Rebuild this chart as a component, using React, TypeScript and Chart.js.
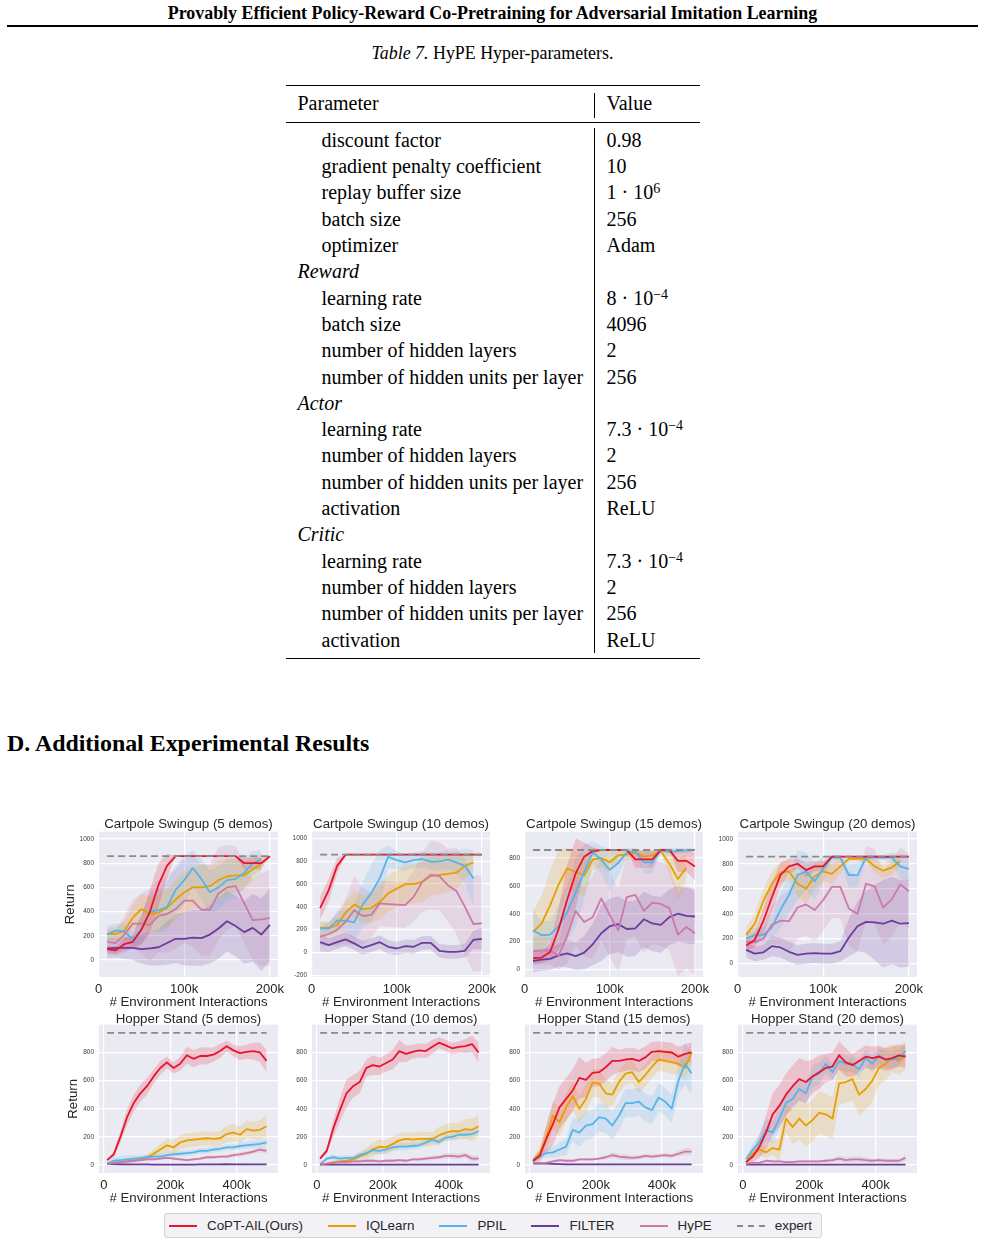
import React, { useEffect, useRef } from "react";
import { Chart, registerables } from "chart.js";
Chart.register(...registerables);

const SANS = "'Liberation Sans', Arial, Helvetica, sans-serif";
const SERIF = "'Liberation Serif', 'Times New Roman', Times, serif";

// ---------- chart data ----------
const METHODS = ["CoPT-AIL(Ours)", "IQLearn", "PPIL", "FILTER", "HyPE"];
const METHOD_COLORS = ["#e8132f", "#e69f00", "#56b4e9", "#6a3d9a", "#cc79a7"];
const EXPERT_COLOR = "#8a8a8a";

const CP_X = [10000, 20000, 30000, 40000, 50000, 60000, 70000, 80000, 90000, 100000, 110000, 120000, 130000, 140000, 150000, 160000, 170000, 180000, 190000, 200000];
const CP_X_TICKS = [0, 100000, 200000];
const CP_X_LABELS = ["0", "100k", "200k"];
const CP_Y_TICKS = [0, 200, 400, 600, 800, 1000];
const C10_Y_TICKS = [-200, 0, 200, 400, 600, 800, 1000];
const C15_Y_TICKS = [0, 200, 400, 600, 800];
const CP_EXPERT = 858;

const HOP_X = [10000, 30000, 50000, 70000, 90000, 110000, 130000, 150000, 170000, 190000, 210000, 230000, 250000, 270000, 290000, 310000, 330000, 350000, 370000, 390000, 410000, 430000, 450000, 470000, 490000];
const HOP_X_TICKS = [0, 200000, 400000];
const HOP_X_LABELS = ["0", "200k", "400k"];
const HOP_Y_TICKS = [0, 200, 400, 600, 800];
const HOP_EXPERT = 939;

// Cartpole Swingup (5 demos)
const C5_COPT = [90, 80, 130, 150, 250, 400, 620, 780, 858, 858, 858, 858, 858, 858, 858, 858, 800, 800, 800, 858];
const C5_COPT_SD = [30, 30, 50, 60, 120, 180, 180, 100, 0, 0, 0, 0, 0, 0, 0, 0, 50, 50, 50, 0];
const C5_IQ = [215, 215, 240, 350, 420, 380, 390, 430, 500, 560, 600, 600, 610, 660, 690, 700, 700, 750, 795];
const C5_IQ_SD = [50, 60, 80, 100, 130, 150, 150, 160, 160, 170, 170, 180, 170, 160, 150, 140, 120, 100, 80];
const C5_PPIL = [210, 245, 235, 170, 250, 400, 410, 440, 580, 660, 760, 670, 560, 600, 660, 670, 720, 800, 830];
const C5_PPIL_SD = [70, 60, 60, 60, 120, 150, 180, 200, 200, 200, 150, 170, 180, 180, 170, 160, 130, 100, 80];
const C5_FILTER = [95, 100, 100, 100, 90, 95, 105, 140, 175, 175, 185, 180, 210, 260, 320, 280, 230, 265, 210, 290];
const C5_FILTER_SD = [80, 80, 90, 100, 120, 140, 150, 180, 200, 220, 230, 230, 240, 250, 250, 250, 260, 280, 300, 300];
const C5_HYPE = [150, 140, 210, 300, 300, 290, 365, 380, 420, 490, 490, 415, 415, 550, 600, 610, 470, 330, 335, 345];
const C5_HYPE_SD = [100, 100, 150, 200, 250, 300, 300, 320, 330, 350, 380, 380, 380, 380, 350, 330, 330, 330, 380, 400];

// Cartpole Swingup (10 demos)
const C10_COPT = [390, 545, 760, 858, 858, 858, 858, 858, 858, 858, 858, 858, 858, 858, 858, 858, 858, 858, 858, 858];
const C10_COPT_SD = [100, 100, 70, 0, 0, 0, 0, 0, 0, 0, 0, 0, 0, 0, 0, 0, 0, 0, 0, 0];
const C10_IQ = [215, 215, 240, 350, 420, 380, 390, 440, 520, 560, 600, 600, 620, 670, 680, 690, 700, 760, 790];
const C10_IQ_SD = [60, 60, 80, 100, 120, 120, 130, 150, 160, 160, 170, 170, 180, 170, 170, 160, 150, 110, 80];
const C10_PPIL = [210, 210, 280, 280, 265, 420, 520, 650, 840, 810, 790, 810, 820, 795, 800, 815, 790, 760, 650];
const C10_PPIL_SD = [50, 50, 80, 100, 150, 200, 250, 250, 100, 80, 70, 70, 70, 70, 80, 80, 100, 150, 250];
const C10_FILTER = [90, 65, 90, 115, 80, 40, 65, 90, 50, 35, 55, 50, 85, 85, 15, 5, 5, 15, 110, 120];
const C10_FILTER_SD = [80, 60, 60, 60, 60, 60, 60, 60, 60, 60, 60, 60, 60, 60, 60, 60, 60, 60, 80, 100];
const C10_HYPE = [140, 160, 200, 270, 370, 320, 330, 430, 425, 420, 415, 490, 620, 680, 670, 590, 540, 400, 250, 255];
const C10_HYPE_SD = [80, 100, 150, 200, 300, 250, 200, 200, 200, 200, 200, 220, 260, 300, 300, 320, 380, 420, 420, 420];

// Cartpole Swingup (15 demos)
const C15_COPT = [80, 85, 125, 290, 500, 690, 810, 850, 858, 858, 858, 858, 790, 790, 790, 858, 858, 780, 780, 740];
const C15_COPT_SD = [40, 40, 60, 150, 250, 250, 100, 30, 0, 0, 0, 0, 60, 60, 60, 0, 0, 80, 80, 100];
const C15_IQ = [270, 330, 460, 610, 725, 700, 675, 790, 800, 770, 820, 825, 840, 810, 820, 850, 760, 650, 730];
const C15_IQ_SD = [150, 200, 250, 250, 150, 150, 150, 80, 60, 80, 40, 40, 30, 40, 40, 20, 80, 150, 100];
const C15_PPIL = [280, 245, 250, 310, 410, 550, 700, 840, 790, 715, 765, 840, 850, 770, 770, 855, 845, 850, 855, 858];
const C15_PPIL_SD = [150, 100, 100, 150, 200, 250, 200, 80, 100, 150, 100, 30, 20, 80, 80, 20, 30, 20, 20, 10];
const C15_FILTER = [60, 70, 75, 100, 115, 95, 120, 180, 260, 310, 325, 290, 295, 360, 330, 320, 375, 400, 385, 380];
const C15_FILTER_SD = [80, 80, 80, 80, 100, 100, 120, 150, 200, 200, 200, 200, 200, 200, 200, 200, 200, 200, 200, 200];
const C15_HYPE = [130, 135, 135, 100, 240, 420, 340, 375, 510, 390, 280, 520, 535, 420, 480, 470, 440, 250, 305, 260];
const C15_HYPE_SD = [100, 100, 100, 100, 200, 250, 250, 300, 300, 300, 300, 300, 300, 300, 300, 300, 300, 300, 300, 300];

// Cartpole Swingup (20 demos)
const C20_COPT = [145, 190, 340, 530, 710, 780, 800, 750, 780, 780, 858, 858, 858, 858, 858, 858, 858, 858, 858, 858];
const C20_COPT_SD = [40, 60, 100, 120, 100, 60, 40, 60, 40, 40, 0, 0, 0, 0, 0, 0, 0, 0, 0, 0];
const C20_IQ = [230, 320, 500, 640, 730, 740, 640, 600, 700, 740, 720, 780, 840, 840, 840, 780, 745, 770, 820];
const C20_IQ_SD = [60, 80, 100, 100, 80, 80, 100, 120, 100, 80, 80, 60, 20, 20, 20, 50, 60, 60, 40];
const C20_PPIL = [200, 230, 230, 290, 430, 550, 710, 740, 660, 760, 850, 850, 710, 710, 850, 850, 850, 850, 780, 760];
const C20_PPIL_SD = [60, 60, 60, 80, 150, 150, 200, 150, 150, 100, 20, 20, 100, 100, 20, 20, 20, 40, 100, 100];
const C20_FILTER = [110, 80, 90, 140, 130, 95, 70, 80, 85, 80, 80, 100, 210, 300, 335, 330, 320, 345, 320, 325];
const C20_FILTER_SD = [60, 60, 60, 80, 80, 80, 80, 80, 80, 80, 80, 80, 150, 200, 250, 300, 350, 350, 350, 350];
const C20_HYPE = [175, 170, 200, 310, 345, 340, 450, 475, 430, 510, 615, 615, 440, 400, 640, 620, 450, 515, 635, 580];
const C20_HYPE_SD = [80, 80, 100, 150, 200, 250, 250, 250, 250, 250, 250, 250, 300, 300, 300, 300, 300, 300, 300, 300];

// Hopper Stand (5 demos)
const H5_COPT = [35, 75, 200, 340, 440, 510, 560, 630, 690, 730, 690, 720, 780, 755, 775, 775, 785, 810, 845, 815, 795, 805, 810, 800, 740];
const H5_COPT_SD = [10, 20, 40, 60, 60, 60, 60, 50, 50, 40, 40, 50, 60, 60, 60, 60, 50, 50, 40, 40, 50, 50, 60, 70, 80];
const H5_IQ = [5, 15, 20, 25, 30, 40, 55, 80, 110, 140, 125, 160, 175, 180, 185, 190, 185, 190, 220, 230, 215, 255, 245, 250, 275];
const H5_IQ_SD = [5, 5, 10, 10, 10, 15, 20, 30, 40, 50, 50, 50, 50, 50, 50, 50, 50, 50, 60, 60, 60, 60, 60, 70, 80];
const H5_PPIL = [10, 30, 35, 40, 45, 50, 55, 60, 60, 70, 75, 80, 85, 90, 100, 100, 110, 115, 125, 125, 135, 140, 145, 150, 160];
const H5_PPIL_SD = [10, 20, 30, 30, 25, 20, 20, 20, 20, 20, 20, 20, 20, 20, 20, 20, 20, 20, 20, 20, 25, 25, 25, 25, 25];
const H5_FILTER = [8, 6, 5, 5, 4, 4, 4, 3, 3, 3, 2, 3, 3, 3, 4, 4, 5, 5, 6, 5, 5, 5, 4, 4, 4];
const H5_FILTER_SD = [3, 3, 3, 3, 3, 3, 3, 3, 3, 3, 3, 3, 3, 3, 3, 3, 3, 3, 3, 3, 3, 3, 3, 3, 3];
const H5_HYPE = [5, 15, 20, 25, 30, 35, 40, 40, 45, 50, 45, 40, 35, 40, 45, 55, 55, 60, 60, 70, 75, 85, 95, 110, 100];
const H5_HYPE_SD = [5, 5, 5, 10, 10, 10, 10, 10, 10, 10, 10, 10, 10, 10, 10, 10, 10, 10, 10, 15, 15, 15, 15, 20, 20];

// Hopper Stand (10 demos)
const H10_COPT = [45, 100, 260, 390, 510, 560, 590, 690, 710, 700, 725, 750, 810, 790, 805, 815, 810, 840, 870, 850, 830, 840, 845, 860, 800];
const H10_COPT_SD = [10, 20, 60, 80, 100, 80, 80, 60, 70, 60, 60, 70, 80, 60, 50, 50, 50, 50, 40, 40, 40, 40, 50, 60, 70];
const H10_IQ = [0, 10, 20, 25, 30, 40, 60, 80, 110, 130, 125, 150, 175, 185, 180, 185, 185, 185, 210, 230, 240, 240, 255, 250, 275];
const H10_IQ_SD = [5, 5, 10, 10, 15, 20, 30, 40, 50, 50, 50, 50, 50, 50, 50, 50, 50, 50, 60, 60, 60, 60, 70, 80, 80];
const H10_PPIL = [5, 45, 55, 45, 50, 50, 70, 85, 105, 100, 110, 125, 130, 130, 135, 140, 160, 180, 165, 195, 200, 215, 215, 220, 240];
const H10_PPIL_SD = [5, 15, 20, 20, 20, 20, 20, 25, 25, 25, 25, 25, 25, 25, 25, 25, 25, 25, 25, 25, 25, 25, 25, 25, 25];
const H10_FILTER = [4, 3, 3, 2, 3, 3, 2, 3, 3, 3, 2, 3, 3, 3, 3, 2, 3, 3, 3, 3, 3, 2, 3, 3, 3];
const H10_FILTER_SD = [3, 3, 3, 3, 3, 3, 3, 3, 3, 3, 3, 3, 3, 3, 3, 3, 3, 3, 3, 3, 3, 3, 3, 3, 3];
const H10_HYPE = [5, 10, 15, 20, 20, 25, 25, 30, 30, 25, 30, 30, 35, 30, 40, 40, 45, 50, 55, 65, 65, 60, 70, 45, 45];
const H10_HYPE_SD = [5, 5, 5, 10, 10, 10, 10, 10, 10, 10, 10, 10, 10, 10, 10, 15, 15, 15, 15, 20, 20, 20, 20, 20, 20];

// Hopper Stand (15 demos)
const H15_COPT = [30, 65, 185, 290, 410, 470, 530, 620, 605, 655, 660, 695, 740, 740, 750, 755, 740, 765, 805, 810, 805, 800, 770, 790, 800];
const H15_COPT_SD = [20, 40, 100, 150, 150, 150, 150, 150, 120, 100, 100, 100, 100, 80, 80, 80, 80, 80, 70, 70, 70, 70, 70, 70, 70];
const H15_IQ = [35, 80, 200, 350, 305, 410, 490, 400, 470, 585, 580, 510, 500, 590, 650, 660, 590, 640, 700, 750, 740, 730, 720, 690, 800];
const H15_IQ_SD = [20, 40, 80, 100, 100, 100, 100, 100, 100, 100, 100, 100, 80, 80, 80, 80, 80, 80, 80, 80, 80, 80, 80, 80, 80];
const H15_PPIL = [25, 60, 85, 90, 110, 130, 250, 230, 280, 290, 340, 330, 280, 350, 440, 440, 450, 410, 390, 480, 450, 400, 600, 720, 650];
const H15_PPIL_SD = [10, 20, 30, 40, 50, 60, 80, 100, 100, 100, 100, 100, 100, 100, 100, 100, 100, 100, 100, 100, 100, 100, 100, 150, 150];
const H15_FILTER = [10, 12, 10, 8, 6, 5, 5, 4, 4, 4, 4, 4, 5, 4, 4, 4, 4, 4, 5, 4, 4, 4, 4, 5, 4];
const H15_FILTER_SD = [3, 3, 3, 3, 3, 3, 3, 3, 3, 3, 3, 3, 3, 3, 3, 3, 3, 3, 3, 3, 3, 3, 3, 3, 3];
const H15_HYPE = [15, 15, 15, 25, 35, 30, 30, 40, 40, 40, 45, 55, 70, 60, 55, 50, 55, 65, 60, 65, 70, 65, 80, 95, 95];
const H15_HYPE_SD = [5, 5, 5, 10, 10, 10, 10, 10, 10, 10, 10, 15, 20, 20, 20, 15, 15, 15, 15, 15, 15, 15, 20, 25, 25];

// Hopper Stand (20 demos)
const H20_COPT = [20, 60, 130, 230, 360, 420, 500, 560, 610, 590, 630, 660, 690, 700, 780, 730, 710, 740, 770, 760, 770, 750, 760, 780, 770];
const H20_COPT_SD = [20, 40, 80, 120, 150, 150, 150, 150, 150, 150, 120, 120, 100, 100, 100, 100, 80, 80, 80, 80, 80, 80, 80, 80, 80];
const H20_IQ = [20, 80, 110, 90, 120, 110, 330, 270, 330, 280, 320, 370, 360, 330, 580, 590, 610, 500, 540, 600, 690, 720, 760, 740, 780];
const H20_IQ_SD = [10, 30, 40, 40, 50, 80, 100, 120, 150, 150, 150, 150, 150, 150, 150, 150, 150, 150, 150, 150, 120, 120, 100, 100, 100];
const H20_PPIL = [40, 110, 160, 250, 230, 330, 440, 470, 540, 510, 630, 650, 720, 660, 740, 720, 720, 680, 760, 720, 780, 750, 750, 760, 810];
const H20_PPIL_SD = [20, 40, 60, 80, 80, 80, 80, 80, 80, 80, 80, 80, 60, 60, 60, 60, 60, 60, 60, 60, 60, 60, 60, 60, 60];
const H20_FILTER = [3, 2, 2, 3, 2, 2, 3, 2, 2, 2, 3, 2, 2, 2, 3, 2, 2, 2, 2, 3, 2, 2, 2, 3, 2];
const H20_FILTER_SD = [3, 3, 3, 3, 3, 3, 3, 3, 3, 3, 3, 3, 3, 3, 3, 3, 3, 3, 3, 3, 3, 3, 3, 3, 3];
const H20_HYPE = [10, 15, 15, 30, 25, 25, 20, 20, 25, 25, 25, 25, 30, 35, 45, 35, 40, 40, 35, 30, 35, 30, 30, 30, 50];
const H20_HYPE_SD = [5, 5, 5, 10, 10, 10, 10, 10, 10, 10, 10, 10, 10, 15, 20, 20, 20, 20, 20, 15, 15, 15, 15, 15, 20];

// ---------- table text ----------
type Row = { kind: "item" | "group"; label: string; base?: string; sup?: string };
const TABLE_ROWS: Row[] = [
  { kind: "item", label: "discount factor", base: "0.98" },
  { kind: "item", label: "gradient penalty coefficient", base: "10" },
  { kind: "item", label: "replay buffer size", base: "1 · 10", sup: "6" },
  { kind: "item", label: "batch size", base: "256" },
  { kind: "item", label: "optimizer", base: "Adam" },
  { kind: "group", label: "Reward" },
  { kind: "item", label: "learning rate", base: "8 · 10", sup: "−4" },
  { kind: "item", label: "batch size", base: "4096" },
  { kind: "item", label: "number of hidden layers", base: "2" },
  { kind: "item", label: "number of hidden units per layer", base: "256" },
  { kind: "group", label: "Actor" },
  { kind: "item", label: "learning rate", base: "7.3 · 10", sup: "−4" },
  { kind: "item", label: "number of hidden layers", base: "2" },
  { kind: "item", label: "number of hidden units per layer", base: "256" },
  { kind: "item", label: "activation", base: "ReLU" },
  { kind: "group", label: "Critic" },
  { kind: "item", label: "learning rate", base: "7.3 · 10", sup: "−4" },
  { kind: "item", label: "number of hidden layers", base: "2" },
  { kind: "item", label: "number of hidden units per layer", base: "256" },
  { kind: "item", label: "activation", base: "ReLU" },
];

// ---------- panels ----------
type Panel = {
  title: string; row: number; col: number;
  xs: number[]; xMin: number; xMax: number; xTicks: number[]; xLabels: string[];
  yMin: number; yMax: number; yTicks: number[]; expert: number;
  series: number[][][];
};

const PANELS: Panel[] = [
  { title: "Cartpole Swingup (5 demos)", row: 0, col: 0, xs: CP_X, xMin: 500, xMax: 209500, xTicks: CP_X_TICKS, xLabels: CP_X_LABELS, yMin: -141, yMax: 1061, yTicks: CP_Y_TICKS, expert: CP_EXPERT,
    series: [[C5_COPT, C5_COPT_SD], [C5_IQ, C5_IQ_SD], [C5_PPIL, C5_PPIL_SD], [C5_FILTER, C5_FILTER_SD], [C5_HYPE, C5_HYPE_SD]] },
  { title: "Cartpole Swingup (10 demos)", row: 0, col: 1, xs: CP_X, xMin: 500, xMax: 209500, xTicks: CP_X_TICKS, xLabels: CP_X_LABELS, yMin: -215, yMax: 1060, yTicks: C10_Y_TICKS, expert: CP_EXPERT,
    series: [[C10_COPT, C10_COPT_SD], [C10_IQ, C10_IQ_SD], [C10_PPIL, C10_PPIL_SD], [C10_FILTER, C10_FILTER_SD], [C10_HYPE, C10_HYPE_SD]] },
  { title: "Cartpole Swingup (15 demos)", row: 0, col: 2, xs: CP_X, xMin: 500, xMax: 209500, xTicks: CP_X_TICKS, xLabels: CP_X_LABELS, yMin: -55, yMax: 990, yTicks: C15_Y_TICKS, expert: CP_EXPERT,
    series: [[C15_COPT, C15_COPT_SD], [C15_IQ, C15_IQ_SD], [C15_PPIL, C15_PPIL_SD], [C15_FILTER, C15_FILTER_SD], [C15_HYPE, C15_HYPE_SD]] },
  { title: "Cartpole Swingup (20 demos)", row: 0, col: 3, xs: CP_X, xMin: 500, xMax: 209500, xTicks: CP_X_TICKS, xLabels: CP_X_LABELS, yMin: -107, yMax: 1058, yTicks: CP_Y_TICKS, expert: CP_EXPERT,
    series: [[C20_COPT, C20_COPT_SD], [C20_IQ, C20_IQ_SD], [C20_PPIL, C20_PPIL_SD], [C20_FILTER, C20_FILTER_SD], [C20_HYPE, C20_HYPE_SD]] },
  { title: "Hopper Stand (5 demos)", row: 1, col: 0, xs: HOP_X, xMin: -14500, xMax: 524500, xTicks: HOP_X_TICKS, xLabels: HOP_X_LABELS, yMin: -57, yMax: 998, yTicks: HOP_Y_TICKS, expert: HOP_EXPERT,
    series: [[H5_COPT, H5_COPT_SD], [H5_IQ, H5_IQ_SD], [H5_PPIL, H5_PPIL_SD], [H5_FILTER, H5_FILTER_SD], [H5_HYPE, H5_HYPE_SD]] },
  { title: "Hopper Stand (10 demos)", row: 1, col: 1, xs: HOP_X, xMin: -14500, xMax: 524500, xTicks: HOP_X_TICKS, xLabels: HOP_X_LABELS, yMin: -57, yMax: 998, yTicks: HOP_Y_TICKS, expert: HOP_EXPERT,
    series: [[H10_COPT, H10_COPT_SD], [H10_IQ, H10_IQ_SD], [H10_PPIL, H10_PPIL_SD], [H10_FILTER, H10_FILTER_SD], [H10_HYPE, H10_HYPE_SD]] },
  { title: "Hopper Stand (15 demos)", row: 1, col: 2, xs: HOP_X, xMin: -14500, xMax: 524500, xTicks: HOP_X_TICKS, xLabels: HOP_X_LABELS, yMin: -57, yMax: 998, yTicks: HOP_Y_TICKS, expert: HOP_EXPERT,
    series: [[H15_COPT, H15_COPT_SD], [H15_IQ, H15_IQ_SD], [H15_PPIL, H15_PPIL_SD], [H15_FILTER, H15_FILTER_SD], [H15_HYPE, H15_HYPE_SD]] },
  { title: "Hopper Stand (20 demos)", row: 1, col: 3, xs: HOP_X, xMin: -14500, xMax: 524500, xTicks: HOP_X_TICKS, xLabels: HOP_X_LABELS, yMin: -57, yMax: 998, yTicks: HOP_Y_TICKS, expert: HOP_EXPERT,
    series: [[H20_COPT, H20_COPT_SD], [H20_IQ, H20_IQ_SD], [H20_PPIL, H20_PPIL_SD], [H20_FILTER, H20_FILTER_SD], [H20_HYPE, H20_HYPE_SD]] },
];

// ---------- layout ----------
const COL_X = [[99, 278], [312, 490], [525, 703], [738, 917]];
const ROW_Y = [[832, 977], [1025, 1173]];
const RP = 14;
const XH = 34;
const TITLE_SIZE = 13.3;
const TITLE_LH = 0.8;

function alpha(hex: string, a: number) {
  const n = parseInt(hex.slice(1), 16);
  return `rgba(${(n >> 16) & 255},${(n >> 8) & 255},${n & 255},${a})`;
}

const bgPlugin = {
  id: "axbg",
  beforeDraw(chart: any) {
    const { ctx, chartArea } = chart;
    ctx.save();
    ctx.fillStyle = "#eaeaf2";
    ctx.fillRect(chartArea.left, chartArea.top, chartArea.right - chartArea.left, chartArea.bottom - chartArea.top);
    ctx.restore();
  },
};

function PanelChart({ p }: { p: Panel }) {
  const ref = useRef<HTMLCanvasElement>(null);
  const [L, R] = COL_X[p.col];
  const [T, B] = ROW_Y[p.row];
  const yw = p.col === 0 ? (p.row === 0 ? 37 : 34) : 30;
  const pb = p.row === 0 ? 2 : 0;
  const TH = Math.round(TITLE_SIZE * TITLE_LH * 100) / 100 + pb;
  const W = yw + (R - L) + RP;
  const H = Math.ceil(TH + (B - T) + XH);
  const top = T - TH;

  useEffect(() => {
    const datasets: any[] = [];
    datasets.push({
      data: [{ x: p.xs[0], y: p.expert }, { x: p.xs[p.xs.length - 1], y: p.expert }],
      borderColor: EXPERT_COLOR, borderDash: [7, 4], borderWidth: 1.8, pointRadius: 0, fill: false, order: 0,
    });
    p.series.forEach(([mean, sd], k) => {
      const c = METHOD_COLORS[k];
      datasets.push({
        data: mean.map((v, i) => ({ x: p.xs[i], y: v + sd[i] })),
        borderWidth: 0, pointRadius: 0, fill: "+1", backgroundColor: alpha(c, 0.18), order: 20 + k,
      });
      datasets.push({
        data: mean.map((v, i) => ({ x: p.xs[i], y: v - sd[i] })),
        borderWidth: 0, pointRadius: 0, fill: false, order: 20 + k,
      });
    });
    p.series.forEach(([mean], k) => {
      datasets.push({
        data: mean.map((v, i) => ({ x: p.xs[i], y: v })),
        borderColor: METHOD_COLORS[k], borderWidth: 1.8, pointRadius: 0, fill: false, tension: 0,
        borderJoinStyle: "round", order: k === 0 ? 1 : 6 - k + 1,
      });
    });

    const chart = new Chart(ref.current!, {
      type: "line",
      data: { datasets },
      plugins: [bgPlugin],
      options: {
        responsive: false,
        animation: false,
        devicePixelRatio: 1,
        layout: { padding: { left: 0, right: RP, top: 0, bottom: 0 } },
        plugins: {
          legend: { display: false },
          tooltip: { enabled: false },
          title: {
            display: true, text: p.title, fullSize: false, color: "#262626",
            font: { family: SANS, size: TITLE_SIZE, weight: "normal", lineHeight: TITLE_LH },
            padding: { top: 0, bottom: pb },
          },
        },
        scales: {
          x: {
            type: "linear", min: p.xMin, max: p.xMax,
            afterBuildTicks: (s: any) => { s.ticks = p.xTicks.map((v) => ({ value: v })); },
            afterFit: (s: any) => { s.height = XH; },
            ticks: {
              autoSkip: false, maxRotation: 0, padding: 4.5, color: "#262626",
              font: { family: SANS, size: 13 },
              callback: (_v: any, i: number) => p.xLabels[i],
            },
            grid: { color: "#ffffff", lineWidth: 1.2, drawTicks: false },
            border: { display: false },
            title: {
              display: true, text: "# Environment Interactions", color: "#262626",
              font: { family: SANS, size: TITLE_SIZE }, padding: { top: 0, bottom: 1 },
            },
          },
          y: {
            type: "linear", min: p.yMin, max: p.yMax,
            afterBuildTicks: (s: any) => { s.ticks = p.yTicks.map((v) => ({ value: v })); },
            afterFit: (s: any) => { s.width = yw; },
            ticks: { padding: 5, color: "#3a3a3a", font: { family: SANS, size: 6.5 }, callback: (v: any) => String(v) },
            grid: { color: "#ffffff", lineWidth: 1.2, drawTicks: false },
            border: { display: false },
            title: {
              display: p.col === 0, text: "Return", color: "#262626",
              font: { family: SANS, size: TITLE_SIZE }, padding: 0,
            },
          },
        },
      } as any,
    });
    return () => chart.destroy();
  }, []);

  return (
    <canvas
      ref={ref}
      width={W}
      height={H}
      style={{ position: "absolute", left: L - yw, top, width: W, height: H }}
    />
  );
}

function Legend() {
  const items = [...METHODS.map((m, i) => ({ label: m, color: METHOD_COLORS[i], dashed: false })), { label: "expert", color: EXPERT_COLOR, dashed: true }];
  return (
    <div style={{
      position: "absolute", left: 164, top: 1213, width: 652, height: 23, border: "1px solid #d3d3d8", borderRadius: 3,
      background: "#f1f1f6", display: "flex", alignItems: "center", fontFamily: SANS, fontSize: 13.4, color: "#262626",
      paddingLeft: 4, boxSizing: "content-box",
    }}>
      {items.map((it, i) => (
        <div key={i} style={{ display: "flex", alignItems: "center", marginRight: i === items.length - 1 ? 0 : 25 }}>
          <div style={{ width: 28, height: 0, borderTop: `2px ${it.dashed ? "dashed" : "solid"} ${it.color}`, marginRight: 10 }} />
          <span>{it.label}</span>
        </div>
      ))}
    </div>
  );
}

function Table() {
  const rowTop0 = 126.85;
  const rowH = 26.3;
  return (
    <>
      <div style={{ position: "absolute", left: 286, top: 85, width: 414, height: 1.3, background: "#000" }} />
      <div style={{ position: "absolute", left: 286, top: 121.8, width: 414, height: 1, background: "#000" }} />
      <div style={{ position: "absolute", left: 286, top: 657.5, width: 414, height: 1.3, background: "#000" }} />
      <div style={{ position: "absolute", left: 594, top: 92.5, width: 1, height: 25.5, background: "#000" }} />
      <div style={{ position: "absolute", left: 594, top: 128, width: 1, height: 525, background: "#000" }} />
      <div style={{ position: "absolute", left: 297.5, top: 90.2, fontSize: 20, lineHeight: "26.3px", whiteSpace: "nowrap" }}>Parameter</div>
      <div style={{ position: "absolute", left: 606.5, top: 90.2, fontSize: 20, lineHeight: "26.3px", whiteSpace: "nowrap" }}>Value</div>
      {TABLE_ROWS.map((r, i) => (
        <React.Fragment key={i}>
          <div style={{
            position: "absolute", left: r.kind === "group" ? 297.5 : 321.5, top: rowTop0 + i * rowH,
            fontSize: 20, lineHeight: "26.3px", whiteSpace: "nowrap", fontStyle: r.kind === "group" ? "italic" : "normal",
          }}>{r.label}</div>
          {r.base !== undefined && (
            <div style={{ position: "absolute", left: 606.5, top: rowTop0 + i * rowH, fontSize: 20, lineHeight: "26.3px", whiteSpace: "nowrap" }}>
              {r.base}
              {r.sup && <sup style={{ fontSize: 14, lineHeight: 0, verticalAlign: "0.45em" }}>{r.sup}</sup>}
            </div>
          )}
        </React.Fragment>
      ))}
    </>
  );
}

export default function App() {
  return (
    <div style={{ position: "absolute", left: 0, top: 0, width: 985, height: 1245, background: "#fff", fontFamily: SERIF, color: "#000", overflow: "hidden" }}>
      <div style={{ position: "absolute", left: 0, top: 2, width: 985, textAlign: "center", fontSize: 17.9, lineHeight: "22px", fontWeight: "bold", whiteSpace: "nowrap" }}>
        Provably Efficient Policy-Reward Co-Pretraining for Adversarial Imitation Learning
      </div>
      <div style={{ position: "absolute", left: 7, top: 25, width: 971, height: 1.6, background: "#000" }} />
      <div style={{ position: "absolute", left: 0, top: 42.5, width: 985, textAlign: "center", fontSize: 17.9, lineHeight: "20px", whiteSpace: "nowrap" }}>
        <i>Table 7.</i> HyPE Hyper-parameters.
      </div>
      <Table />
      <div style={{ position: "absolute", left: 7, top: 729, fontSize: 23.9, lineHeight: "28px", fontWeight: "bold", whiteSpace: "nowrap" }}>
        D. Additional Experimental Results
      </div>
      {PANELS.map((p, i) => <PanelChart key={i} p={p} />)}
      <Legend />
    </div>
  );
}
